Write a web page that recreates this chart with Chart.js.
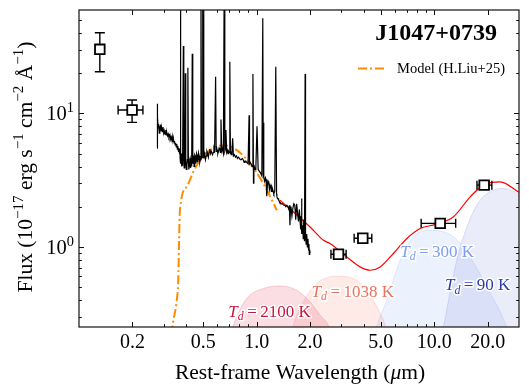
<!DOCTYPE html>
<html>
<head>
<meta charset="utf-8">
<script src="https://cdn.jsdelivr.net/npm/chart.js@4"></script>
<style>
  html, body { margin: 0; padding: 0; background: #fff; }
  canvas { display: block; }
</style>
</head>
<body>
<canvas id="sed" width="529" height="389"></canvas>
<script>
// ===========================
// Data
// ===========================

// photometry, open squares
const photWave   = [0.131, 0.199, 2.89, 3.96, 10.8, 19.1];
const photFlux   = [30.2, 10.6, 0.88, 1.16, 1.50, 2.90];
const photWaveLo = [null, 0.166, 2.62, 3.54, 8.44, 17.4];
const photWaveHi = [null, 0.229, 3.19, 4.45, 13.2, 21.1];
const photFluxLo = [20.5, 8.56, null, null, null, null];
const photFluxHi = [40.2, 12.6, null, null, null, null];

// rest-frame spectrum (black)
const specWave = [
  0.2750, 0.2755, 0.2765, 0.2775, 0.2790, 0.2810, 0.2830, 0.2850, 0.2880, 0.2900,
  0.2920, 0.2950, 0.2970, 0.3000, 0.3020, 0.3050, 0.3080, 0.3100, 0.3120, 0.3150,
  0.3180, 0.3210, 0.3250, 0.3280, 0.3300, 0.3330, 0.3350, 0.3380, 0.3400, 0.3430,
  0.3450, 0.3480, 0.3500, 0.3530, 0.3550, 0.3580, 0.3600, 0.3630, 0.3650, 0.3680,
  0.3700, 0.3710, 0.3720, 0.3727, 0.3735, 0.3750, 0.3760, 0.3780, 0.3800, 0.3815,
  0.3830, 0.3869, 0.3890, 0.3910, 0.3930, 0.3950, 0.3967, 0.3990, 0.4020, 0.4050,
  0.4075, 0.4102, 0.4130, 0.4155, 0.4180, 0.4200, 0.4220, 0.4240, 0.4260, 0.4280,
  0.4300, 0.4320, 0.4340, 0.4370, 0.4395, 0.4420, 0.4445, 0.4470, 0.4495, 0.4520,
  0.4545, 0.4570, 0.4595, 0.4620, 0.4650, 0.4680, 0.4715, 0.4750, 0.4785, 0.4820,
  0.4861, 0.4890, 0.4930, 0.4959, 0.4985, 0.5007, 0.5040, 0.5070, 0.5100, 0.5150,
  0.5200, 0.5250, 0.5300, 0.5350, 0.5400, 0.5450, 0.5500, 0.5550, 0.5600, 0.5650,
  0.5700, 0.5750, 0.5800, 0.5876, 0.5920, 0.5960, 0.6000, 0.6050, 0.6100, 0.6150,
  0.6200, 0.6250, 0.6300, 0.6360, 0.6400, 0.6450, 0.6500, 0.6563, 0.6620, 0.6670,
  0.6720, 0.6780, 0.6840, 0.6900, 0.6950, 0.7000, 0.7065, 0.7120, 0.7160, 0.7200,
  0.7260, 0.7330, 0.7400, 0.7500, 0.7600, 0.7700, 0.7800, 0.7900, 0.8000, 0.8100,
  0.8200, 0.8300, 0.8400, 0.8500, 0.8600, 0.8700, 0.8800, 0.8950, 0.9069, 0.9120,
  0.9200, 0.9300, 0.9420, 0.9531, 0.9600, 0.9650, 0.9700, 0.9800, 0.9900, 1.0050,
  1.0200, 1.0350, 1.0500, 1.0600, 1.0700, 1.0830, 1.0900, 1.0940, 1.1000, 1.1100,
  1.1200, 1.1300, 1.1400, 1.1500, 1.1600, 1.1700, 1.1800, 1.1900, 1.2000, 1.2100,
  1.2200, 1.2300, 1.2400, 1.2500, 1.2650, 1.2818, 1.2950, 1.3000, 1.3100, 1.3200,
  1.3300, 1.3400, 1.3500, 1.3600, 1.3800, 1.4000, 1.4200, 1.4400, 1.4600, 1.4800,
  1.5000, 1.5200, 1.5300, 1.5400, 1.5500, 1.5600, 1.5800, 1.6000, 1.6200, 1.6400,
  1.6600, 1.6800, 1.7000, 1.7200, 1.7400, 1.7600, 1.7700, 1.7800, 1.7900, 1.8000,
  1.8150, 1.8300, 1.8400, 1.8500, 1.8600, 1.8751, 1.8850, 1.9000, 1.9150, 1.9300,
  1.9450, 1.9600, 1.9700, 1.9800, 1.9900, 2.0000
];
const specFlux = [
  5.5, 11.8, 8.6, 9.4, 7.8, 8.3, 7.1, 7.9, 8.1, 7.4,
  7.8, 7.3, 7.9, 7.1, 7.4, 7.0, 7.5, 6.9, 7.2, 6.8,
  7.0, 6.6, 6.9, 6.4, 6.6, 6.3, 6.7, 6.1, 6.5, 6.0,
  6.2, 5.8, 6.0, 5.6, 5.9, 5.4, 5.7, 5.2, 5.5, 5.0,
  5.4, 4.6, 5.2, 80, 5.0, 4.2, 4.8, 4.0, 5.0, 4.1,
  4.3, 32, 4.5, 3.9, 4.2, 4.6, 20, 4.4, 3.8, 4.1,
  4.5, 22, 4.3, 3.8, 4.0, 4.5, 4.6, 3.9, 4.1, 4.6,
  4.5, 4.0, 28, 4.2, 4.8, 4.7, 4.0, 4.3, 4.9, 4.8,
  4.2, 4.4, 5.0, 4.9, 4.3, 4.5, 5.0, 4.8, 4.3, 4.5,
  80, 4.6, 4.7, 80, 4.7, 80, 4.6, 5.1, 4.9, 4.5,
  4.8, 5.2, 5.0, 4.7, 5.1, 5.4, 5.0, 5.2, 5.2, 4.9,
  5.1, 5.5, 5.3, 18.8, 5.2, 5.5, 5.3, 5.0, 5.2, 5.5,
  5.4, 5.1, 9.0, 5.3, 5.5, 5.2, 5.0, 80, 5.2, 5.4,
  7.5, 5.1, 5.3, 5.0, 5.2, 5.1, 24.4, 5.0, 5.2, 4.9,
  5.1, 6.5, 4.8, 4.9, 4.7, 4.8, 4.6, 4.7, 4.6, 4.5,
  4.5, 4.6, 4.5, 4.3, 4.4, 4.4, 4.3, 4.2, 9.7, 4.2,
  4.3, 4.2, 4.0, 19.7, 3.0, 3.9, 4.0, 3.8, 3.9, 8.0,
  3.8, 3.7, 3.6, 3.5, 3.4, 51.6, 3.5, 8.5, 3.3, 3.1,
  3.3, 3.2, 2.4, 2.9, 3.1, 3.0, 2.7, 2.9, 2.8, 2.6,
  2.8, 2.7, 2.6, 2.5, 2.6, 22.4, 2.5, 2.4, 2.3, 2.3,
  2.25, 2.2, 2.15, 2.15, 2.1, 2.1, 2.05, 2.05, 2.0, 2.05,
  2.0, 1.9, 2.05, 1.45, 1.95, 2.0, 1.7, 1.95, 2.1, 2.05,
  1.6, 2.1, 1.8, 1.55, 1.9, 1.5, 1.35, 1.7, 2.3, 1.25,
  1.45, 1.15, 1.6, 1.3, 1.1, 19.7, 1.2, 1.05, 1.25, 1.0,
  1.15, 0.95, 1.05, 0.88, 0.95, 0.9
];

// model of H.Liu+25 (orange dash-dot)
const modelWave = [0.333, 0.337, 0.355, 0.362, 0.366, 0.370, 0.404, 0.440, 0.480, 0.546, 0.649, 0.773, 0.918, 1.09, 1.30];
const modelFlux = [0.22, 0.259, 0.398, 0.563, 1.12, 1.88, 2.82, 3.65, 4.47, 5.31, 5.78, 5.31, 4.22, 2.99, 1.88];

// total fit (red)
const totalWave = [1.355, 2.0, 2.38, 2.59, 3.22, 3.82, 4.35, 4.96, 5.89, 7.01, 8.33, 10.34, 12.83, 15.93, 18.93, 23.5, 29.8, 31.0];
const totalFlux = [2.24, 1.41, 1.12, 1.06, 0.84, 0.708, 0.668, 0.708, 0.892, 1.156, 1.374, 1.48, 1.68, 2.37, 2.90, 3.07, 2.58, 2.50];

// dust components (shaded)
const bb2100Wave = [0.70, 0.739, 0.88, 1.09, 1.355, 1.68, 2.0, 2.28, 2.54, 2.70];
const bb2100Flux = [0.20, 0.259, 0.41, 0.488, 0.510, 0.4735, 0.387, 0.308, 0.256, 0.20];
const bb1038Wave = [1.55, 1.61, 1.83, 2.18, 2.83, 3.66, 4.35, 4.96, 5.29, 5.45];
const bb1038Flux = [0.20, 0.256, 0.387, 0.532, 0.603, 0.563, 0.435, 0.317, 0.256, 0.20];
const bb300Wave  = [4.6, 4.75, 5.41, 6.43, 7.64, 9.69, 12.83, 15.93, 19.8, 25.6, 27.0];
const bb300Flux  = [0.20, 0.251, 0.398, 0.795, 1.19, 1.33, 1.19, 0.841, 0.501, 0.251, 0.20];
const bb90Wave   = [10.9, 11.27, 13.4, 15.27, 18.14, 21.6, 24.5, 29.2, 31.0];
const bb90Flux   = [0.20, 0.251, 0.795, 1.41, 2.24, 2.66, 2.74, 2.51, 2.35];

const bbNames = ['2100', '1038', '300', '90'];

// ticks
const xTickVals   = [0.2, 0.5, 1.0, 2.0, 5.0, 10.0, 20.0];
const xTickLabels = ['0.2', '0.5', '1.0', '2.0', '5.0', '10.0', '20.0'];
const yTickVals   = [1, 10];
const yTickExp    = ['0', '1'];

const pts = (xs, ys) => xs.map((x, i) => ({ x: x, y: ys[i] }));

// ===========================
// Text helpers
// ===========================
const SERIF = '"Liberation Serif", "Times New Roman", serif';

function partFont(p, size) {
    const s = (p.sup || p.sub) ? size * 0.7 : size;
    return (p.bold ? 'bold ' : '') + (p.it ? 'italic ' : '') + s + 'px ' + SERIF;
}

function richWidth(ctx, parts, size) {
    let w = 0;
    parts.forEach(p => { ctx.font = partFont(p, size); w += ctx.measureText(p.t).width; });
    return w;
}

function drawRich(ctx, parts, x, y, size, align, color, halo) {
    const w = richWidth(ctx, parts, size);
    let cx = align === 'center' ? x - w / 2 : (align === 'right' ? x - w : x);
    ctx.textBaseline = 'alphabetic';
    ctx.textAlign = 'left';
    parts.forEach(p => {
        ctx.font = partFont(p, size);
        let dy = 0;
        if (p.sup) dy = -size * 0.4;
        if (p.sub) dy = size * 0.2;
        if (halo) {
            ctx.lineWidth = 3;
            ctx.lineJoin = 'round';
            ctx.strokeStyle = 'rgba(255,255,255,0.95)';
            ctx.strokeText(p.t, cx, y + dy);
        }
        ctx.fillStyle = color;
        ctx.fillText(p.t, cx, y + dy);
        cx += ctx.measureText(p.t).width;
    });
}

// ===========================
// Plugin: frame, ticks, labels, error bars
// ===========================
const decor = {
    id: 'decor',

    beforeDatasetDraw(chart, args) {
        if (args.index !== 0) return;
        const ctx = chart.ctx, xs = chart.scales.x, ys = chart.scales.y;
        ctx.save();
        ctx.strokeStyle = '#000';
        ctx.lineWidth = 1.4;
        photWave.forEach((w, i) => {
            const px = xs.getPixelForValue(w), py = ys.getPixelForValue(photFlux[i]);
            ctx.beginPath();
            if (photWaveLo[i] !== null) {
                const a = xs.getPixelForValue(photWaveLo[i]), b = xs.getPixelForValue(photWaveHi[i]);
                ctx.moveTo(a, py); ctx.lineTo(b, py);
                ctx.moveTo(a, py - 4.5); ctx.lineTo(a, py + 4.5);
                ctx.moveTo(b, py - 4.5); ctx.lineTo(b, py + 4.5);
            }
            if (photFluxLo[i] !== null) {
                const a = ys.getPixelForValue(photFluxLo[i]), b = ys.getPixelForValue(photFluxHi[i]);
                ctx.moveTo(px, a); ctx.lineTo(px, b);
                ctx.moveTo(px - 5, a); ctx.lineTo(px + 5, a);
                ctx.moveTo(px - 5, b); ctx.lineTo(px + 5, b);
            }
            ctx.stroke();
        });
        ctx.restore();
    },

    afterDatasetsDraw(chart) {
        const ctx = chart.ctx, xs = chart.scales.x, ys = chart.scales.y;
        ctx.save();
        // labels of the dust components
        const bbLabel = [
            { x: 0.693, y: 0.299, c: '#c4173f' },
            { x: 2.04,  y: 0.422, c: '#e8735f' },
            { x: 6.43,  y: 0.841, c: '#7d9cf0' },
            { x: 11.5,  y: 0.4735, c: '#2f3ca8' }
        ];
        bbLabel.forEach((l, i) => {
            drawRich(ctx, [
                { t: 'T', it: true },
                { t: 'd', it: true, sub: true },
                { t: '\u2009=\u2009' + bbNames[i] + ' K' }
            ], xs.getPixelForValue(l.x), ys.getPixelForValue(l.y), 17, 'left', l.c, true);
        });
        ctx.restore();
    },

    afterDraw(chart) {
        const ctx = chart.ctx, a = chart.chartArea, xs = chart.scales.x, ys = chart.scales.y;
        ctx.save();

        // frame
        ctx.strokeStyle = '#111';
        ctx.lineWidth = 1.2;
        ctx.strokeRect(a.left, a.top, a.right - a.left, a.bottom - a.top);

        // ticks, inward on all four sides
        ctx.lineWidth = 1;
        ctx.beginPath();
        for (let d = 0.1; d < 100; d *= 10) {
            for (let k = 1; k <= 9; k++) {
                const v = +(d * k).toPrecision(3);
                if (v <= xs.min || v >= xs.max) continue;
                const major = xTickVals.some(t => Math.abs(t - v) < 1e-9);
                const len = major ? 5 : 2.8;
                const px = Math.round(xs.getPixelForValue(v)) + 0.5;
                ctx.moveTo(px, a.bottom); ctx.lineTo(px, a.bottom - len);
                ctx.moveTo(px, a.top); ctx.lineTo(px, a.top + len);
            }
        }
        for (let d = 0.1; d < 100; d *= 10) {
            for (let k = 1; k <= 9; k++) {
                const v = +(d * k).toPrecision(3);
                if (v <= ys.min || v >= ys.max) continue;
                const major = yTickVals.some(t => Math.abs(t - v) < 1e-9);
                const len = major ? 5 : 2.8;
                const py = Math.round(ys.getPixelForValue(v)) + 0.5;
                ctx.moveTo(a.left, py); ctx.lineTo(a.left + len, py);
                ctx.moveTo(a.right, py); ctx.lineTo(a.right - len, py);
            }
        }
        ctx.stroke();

        // tick labels
        ctx.fillStyle = '#000';
        ctx.font = '20px ' + SERIF;
        ctx.textAlign = 'center';
        ctx.textBaseline = 'alphabetic';
        xTickVals.forEach((v, i) => {
            ctx.fillText(xTickLabels[i], xs.getPixelForValue(v), 348);
        });
        yTickVals.forEach((v, i) => {
            drawRich(ctx, [{ t: '10' }, { t: yTickExp[i], sup: true }],
                     a.left - 5, ys.getPixelForValue(v) + 7, 20.5, 'right', '#000', false);
        });

        // axis titles
        drawRich(ctx, [{ t: 'Rest-frame Wavelength (' }, { t: '\u03bc', it: true }, { t: 'm)' }],
                 (a.left + a.right) / 2 + 1, 379, 21.5, 'center', '#000', false);

        ctx.save();
        ctx.translate(32, 167);
        ctx.rotate(-Math.PI / 2);
        drawRich(ctx, [
            { t: 'Flux (10' }, { t: '\u221217', sup: true },
            { t: ' erg s' }, { t: '\u22121', sup: true },
            { t: ' cm' }, { t: '\u22122', sup: true },
            { t: ' \u00c5' }, { t: '\u22121', sup: true },
            { t: ')' }
        ], 0, 0, 21.5, 'center', '#000', false);
        ctx.restore();

        // object name
        ctx.fillStyle = '#000';
        ctx.font = 'bold 24px ' + SERIF;
        ctx.textAlign = 'right';
        ctx.textBaseline = 'middle';
        ctx.fillText('J1047+0739', 497, 34);

        // legend
        ctx.strokeStyle = '#ff8c00';
        ctx.lineWidth = 2;
        ctx.setLineDash([9, 3, 2, 3]);
        ctx.beginPath();
        ctx.moveTo(358, 68.5); ctx.lineTo(387, 68.5);
        ctx.stroke();
        ctx.setLineDash([]);
        ctx.fillStyle = '#000';
        ctx.font = '14.5px ' + SERIF;
        ctx.textAlign = 'left';
        ctx.fillText('Model (H.Liu+25)', 397, 69);

        ctx.restore();
    }
};

// ===========================
// Chart
// ===========================
const bbStyle = (fill, edge) => ({
    type: 'line',
    borderColor: edge,
    backgroundColor: fill,
    borderWidth: 1,
    pointRadius: 0,
    fill: 'start',
    cubicInterpolationMode: 'monotone'
});

new Chart(document.getElementById('sed'), {
    type: 'line',
    data: {
        datasets: [
            {
                label: 'Photometry',
                data: pts(photWave, photFlux),
                showLine: false,
                pointStyle: 'rect',
                pointRadius: 6.8,
                pointBackgroundColor: '#fff',
                pointBorderColor: '#000',
                pointBorderWidth: 1.8,
                clip: false
            },
            {
                label: 'Spectrum',
                data: pts(specWave, specFlux),
                borderColor: '#000',
                borderWidth: 1.2,
                pointRadius: 0,
                tension: 0
            },
            {
                label: 'Model (H.Liu+25)',
                data: pts(modelWave, modelFlux),
                borderColor: '#ff8c00',
                borderWidth: 2,
                borderDash: [9, 3, 2, 3],
                pointRadius: 0,
                cubicInterpolationMode: 'monotone'
            },
            {
                label: 'Total',
                data: pts(totalWave, totalFlux),
                borderColor: '#ff0000',
                borderWidth: 1.2,
                pointRadius: 0,
                cubicInterpolationMode: 'monotone'
            },
            Object.assign({ label: 'Td=2100', data: pts(bb2100Wave, bb2100Flux) },
                          bbStyle('rgba(220,20,60,0.14)', 'rgba(220,20,60,0.18)')),
            Object.assign({ label: 'Td=1038', data: pts(bb1038Wave, bb1038Flux) },
                          bbStyle('rgba(250,128,114,0.16)', 'rgba(250,128,114,0.22)')),
            Object.assign({ label: 'Td=300', data: pts(bb300Wave, bb300Flux) },
                          bbStyle('rgba(100,149,237,0.13)', 'rgba(100,149,237,0.18)')),
            Object.assign({ label: 'Td=90', data: pts(bb90Wave, bb90Flux) },
                          bbStyle('rgba(70,80,200,0.11)', 'rgba(70,80,200,0.16)'))
        ]
    },
    options: {
        responsive: false,
        animation: false,
        devicePixelRatio: 1,
        layout: { padding: { left: 79, right: 10, top: 10, bottom: 62 } },
        plugins: {
            legend: { display: false },
            tooltip: { enabled: false }
        },
        scales: {
            x: { type: 'logarithmic', min: 0.1, max: 30, display: false },
            y: { type: 'logarithmic', min: 0.251, max: 59.5, display: false }
        }
    },
    plugins: [decor]
});
</script>
</body>
</html>
